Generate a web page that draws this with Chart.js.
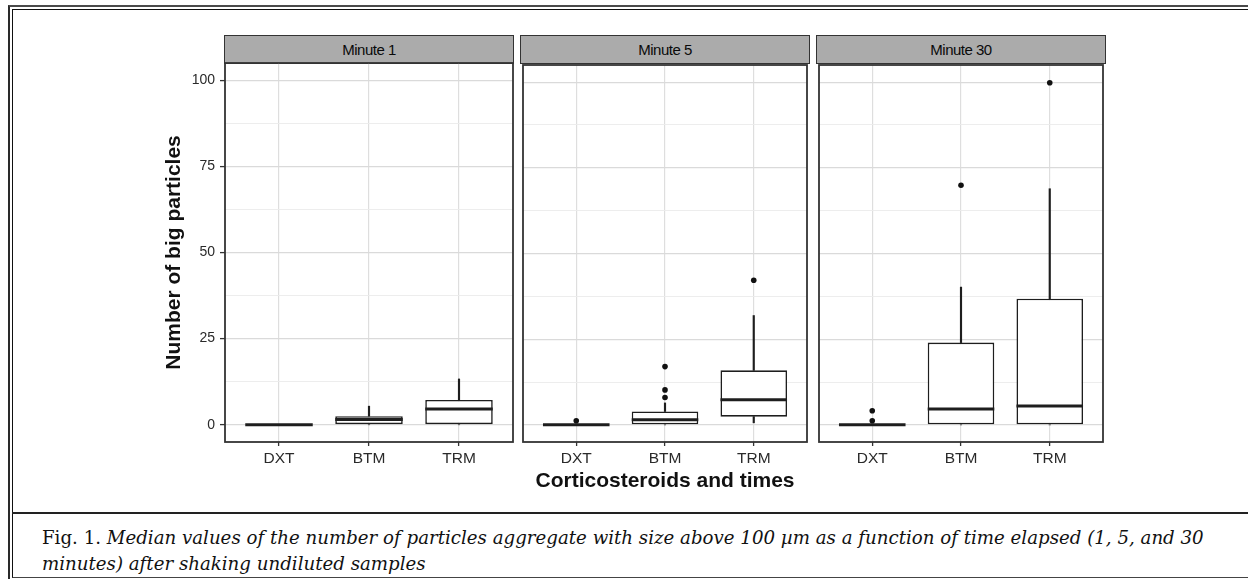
<!DOCTYPE html>
<html>
<head>
<meta charset="utf-8">
<script src="https://cdn.jsdelivr.net/npm/chart.js@4.4.1/dist/chart.umd.min.js"></script>
<style>
  html, body { margin: 0; padding: 0; background: #fff; }
  body { width: 1248px; height: 580px; position: relative; overflow: hidden; font-family: 'Liberation Sans', Arial, sans-serif; }
  .frame-outer { position: absolute; left: 8px; top: 5px; width: 1300px; height: 574px; border-top: 2px solid #4a4a4a; border-left: 2px solid #2a2a2a; box-sizing: border-box; }
  .frame-inner { position: absolute; left: 12px; top: 9px; width: 1300px; height: 569px; border-top: 1px solid #111; border-left: 1px solid #111; border-bottom: 1px solid #444; box-sizing: border-box; }
  .sep { position: absolute; left: 12px; top: 512px; width: 1300px; height: 0; border-top: 2px solid #222; }
  .strip { position: absolute; top: 35px; height: 29px; width: 290px; box-sizing: border-box; border: 1.8px solid #333; background: #ababab; font-size: 15px; line-height: 27px; text-align: center; color: #0a0a0a; letter-spacing: -0.5px; }
  canvas { position: absolute; top: 61px; }
  .caption { position: absolute; left: 42px; top: 525px; font-family: 'DejaVu Serif', serif; font-size: 18.2px; line-height: 26px; color: #111; white-space: nowrap; }
</style>
</head>
<body>
<div class="frame-outer"></div>
<div class="frame-inner"></div>
<div class="sep"></div>

<div class="strip" style="left:224px">Minute 1</div>
<div class="strip" style="left:520px">Minute 5</div>
<div class="strip" style="left:816px">Minute 30</div>

<canvas id="panel1" width="365" height="433" style="left:150px"></canvas>
<canvas id="panel2" width="292" height="433" style="left:519px"></canvas>
<canvas id="panel3" width="292" height="433" style="left:815px"></canvas>

<div class="caption">Fig. 1. <i>Median values of the number of particles aggregate with size above 100 µm as a function of time elapsed (1, 5, and 30</i><br><i>minutes) after shaking undiluted samples</i></div>

<script>
const categories = ['DXT', 'BTM', 'TRM'];
const panelTitles = ['Minute 1', 'Minute 5', 'Minute 30'];
const yMajorTicks = [0, 25, 50, 75, 100];
const yMinorTicks = [12.5, 37.5, 62.5, 87.5];

// one row per panel (minute 1, 5, 30), one value per category (DXT, BTM, TRM)
const whiskerLow  = [[0, 0, 0], [0, 0, 0.6], [0, 0, 0]];
const boxLow      = [[0, 0, 0], [0, 0, 2.4], [0, 0, 0]];
const medians     = [[0, 1.5, 4.6], [0, 1.5, 7.3], [0, 4.6, 5.5]];
const boxHigh     = [[0, 2.5, 7.2], [0, 3.9, 15.9], [0, 24, 36.8]];
const whiskerHigh = [[0, 5.4, 13.3], [0, 6.4, 31.9], [0, 40.2, 68.9]];
const outliers = [
  [[], [], []],
  [[1.2], [8, 10.2, 17], [42.2]],
  [[1.2, 4.1], [69.9], [99.8]]
];

const BOX_WIDTH = 0.75;
const INK = '#1e1e1e';

Chart.defaults.font.family = "'Liberation Sans', Arial, sans-serif";

const panelBorder = {
  id: 'panelBorder',
  afterDatasetsDraw(chart) {
    const { ctx, chartArea: a } = chart;
    ctx.save();
    ctx.strokeStyle = '#333';
    ctx.lineWidth = 1.8;
    ctx.strokeRect(a.left, a.top, a.right - a.left, a.bottom - a.top);
    ctx.restore();
  }
};

const halfBox = (chart) => {
  const x = chart.scales.x;
  return x.getPixelForValue(1 + BOX_WIDTH / 2) - x.getPixelForValue(1);
};

const range = (lo, hi, p) => categories.map((c, i) => ({ x: i + 1, y: [lo[p][i], hi[p][i]] }));

// the axes must not push the plot area around: fixed sizes, no label padding
const noPadding = (s) => {
  s.paddingTop = 0;
  s.paddingBottom = 0;
  s.paddingLeft = 0;
  s.paddingRight = 0;
};

function renderPanel(canvasId, p) {
  const first = p === 0;
  const middle = p === 1;
  const ctx = document.getElementById(canvasId).getContext('2d');

  return new Chart(ctx, {
    type: 'bar',
    data: {
      datasets: [
        {
          label: 'upper whisker',
          data: range(boxHigh, whiskerHigh, p),
          backgroundColor: INK,
          barThickness: 1.5,
          grouped: false,
          order: 5
        },
        {
          label: 'lower whisker',
          data: range(whiskerLow, boxLow, p),
          backgroundColor: INK,
          barThickness: 1.5,
          grouped: false,
          order: 5
        },
        {
          label: 'box',
          data: range(boxLow, boxHigh, p),
          backgroundColor: '#fff',
          borderColor: INK,
          borderWidth: 1.6,
          borderSkipped: false,
          barPercentage: BOX_WIDTH,
          categoryPercentage: 1,
          grouped: false,
          order: 4
        },
        {
          type: 'scatter',
          label: 'median',
          data: categories.map((c, i) => ({ x: i + 1, y: medians[p][i] })),
          pointStyle: 'line',
          pointRadius: (c) => halfBox(c.chart),
          pointBorderColor: INK,
          pointBorderWidth: 3,
          order: 2
        },
        {
          type: 'scatter',
          label: 'outliers',
          data: outliers[p].flatMap((vals, i) => vals.map(v => ({ x: i + 1, y: v }))),
          pointRadius: 2.8,
          pointBackgroundColor: '#111',
          pointBorderWidth: 0,
          order: 1
        }
      ]
    },
    options: {
      responsive: false,
      animation: false,
      layout: { padding: { left: first ? 0 : 2, right: 2, top: 2, bottom: 0 } },
      plugins: {
        legend: { display: false },
        tooltip: { enabled: false }
      },
      scales: {
        x: {
          type: 'linear',
          min: 0.4,
          max: 3.6,
          offset: false,
          afterBuildTicks: (s) => { s.ticks = categories.map((c, i) => ({ value: i + 1 })); },
          afterFit: (s) => { s.height = 52; noPadding(s); },
          ticks: {
            callback: (v) => categories[v - 1],
            autoSkip: false,
            maxRotation: 0,
            padding: 3,
            color: '#2a2a2a',
            font: { size: 15.5 }
          },
          grid: {
            color: '#dedede',
            lineWidth: 1.2,
            tickColor: '#333',
            tickLength: 4,
            tickWidth: 1.3,
            offset: false
          },
          border: { display: false },
          title: {
            display: middle,
            text: 'Corticosteroids and times',
            color: '#111',
            font: { size: 21, weight: 'bold' },
            padding: { top: 0, bottom: 0 }
          }
        },
        y: {
          min: -5,
          max: 105,
          afterBuildTicks: (s) => {
            s.ticks = [...yMajorTicks, ...yMinorTicks].sort((a, b) => a - b).map(v => ({ value: v }));
          },
          afterFit: (s) => { s.width = first ? 75 : 0; noPadding(s); },
          ticks: {
            display: first,
            callback: (v) => (yMajorTicks.includes(v) ? v : ''),
            padding: 5,
            color: '#2a2a2a',
            font: { size: 14 }
          },
          grid: {
            color: (c) => (yMajorTicks.includes(c.tick.value) ? '#dadada' : '#ebebeb'),
            lineWidth: (c) => (yMajorTicks.includes(c.tick.value) ? 1.2 : 0.9),
            tickColor: (c) => (yMajorTicks.includes(c.tick.value) ? '#333' : 'rgba(0,0,0,0)'),
            tickLength: 5,
            tickWidth: 1.3,
            drawTicks: first
          },
          border: { display: false },
          title: {
            display: first,
            text: 'Number of big particles',
            color: '#111',
            font: { size: 21, weight: 'bold' },
            padding: { top: 11.4, bottom: 0 }
          }
        }
      }
    },
    plugins: [panelBorder]
  });
}

renderPanel('panel1', 0);
renderPanel('panel2', 1);
renderPanel('panel3', 2);
</script>
</body>
</html>
